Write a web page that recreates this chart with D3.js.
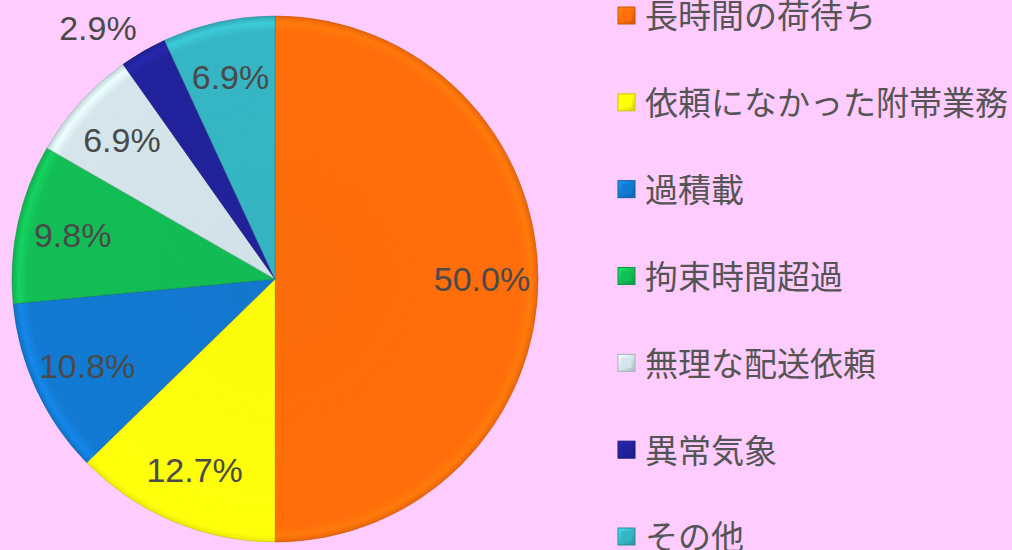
<!DOCTYPE html>
<html>
<head>
<meta charset="utf-8">
<script src="https://cdn.jsdelivr.net/npm/d3@7"></script>
<style>
  html, body { margin: 0; padding: 0; background: #FFCCFF; }
  svg { display: block; }
</style>
</head>
<body>
<script>
const categories = ["長時間の荷待ち", "依頼になかった附帯業務", "過積載", "拘束時間超過", "無理な配送依頼", "異常気象", "その他"];
const values = [50.0, 12.7, 10.8, 9.8, 6.9, 2.9, 6.9];
const colors = ["#FF6E0A", "#FFFF0A", "#127AD2", "#12BE55", "#D4E6EC", "#22229C", "#36B6C4"];

const W = 1012, H = 550;
const cx = 275, cy = 279, R = 263;

const svg = d3.select("body").append("svg").attr("width", W).attr("height", H);
svg.append("rect").attr("width", W).attr("height", H).attr("fill", "#FFCCFF");

const defs = svg.append("defs");
colors.forEach((c, i) => {
  const g = defs.append("radialGradient").attr("id", "g" + i)
    .attr("gradientUnits", "userSpaceOnUse").attr("cx", 0).attr("cy", 0).attr("r", R);
  g.append("stop").attr("offset", "0%").attr("stop-color", d3.color(c).darker(0.05));
  g.append("stop").attr("offset", "94%").attr("stop-color", c);
  g.append("stop").attr("offset", "97.5%").attr("stop-color", d3.color(c).brighter(0.3));
  g.append("stop").attr("offset", "100%").attr("stop-color", d3.color(c).darker(0.25));
  const lg = defs.append("linearGradient").attr("id", "l" + i)
    .attr("x1", 0).attr("y1", 0).attr("x2", 1).attr("y2", 1);
  lg.append("stop").attr("offset", "0%").attr("stop-color", d3.color(c).brighter(0.6));
  lg.append("stop").attr("offset", "50%").attr("stop-color", c);
  lg.append("stop").attr("offset", "100%").attr("stop-color", d3.color(c).darker(0.6));
});

const data = categories.map((c, i) => ({ cat: c, value: values[i], i }));
const pie = d3.pie().sort(null).value(d => d.value);
const arcs = pie(data);
const arc = d3.arc().innerRadius(0).outerRadius(R);
const labelR = 207, outR = R + 44;

const g = svg.append("g").attr("transform", `translate(${cx},${cy})`);
g.selectAll("path.slice").data(arcs).enter().append("path")
  .attr("class", "slice")
  .attr("d", arc)
  .attr("fill", d => `url(#g${d.data.i})`)
  .attr("stroke", d => d3.color(colors[d.data.i]).darker(0.8))
  .attr("stroke-opacity", 0.55)
  .attr("stroke-width", 1);

const total = d3.sum(values);
function labelPos(d) {
  const outside = d.data.value / total < 0.05;
  const a = (d.startAngle + d.endAngle) / 2 - (outside ? 0.09 : 0);
  const r = outside ? outR : labelR;
  return [Math.sin(a) * r, -Math.cos(a) * r];
}
g.selectAll("text.lbl").data(arcs).enter().append("text")
  .attr("class", "lbl")
  .attr("transform", d => { const p = labelPos(d); return `translate(${p[0]},${p[1]})`; })
  .attr("text-anchor", "middle")
  .attr("dy", "0.36em")
  .attr("font-family", "'Liberation Sans', Arial, sans-serif")
  .attr("font-size", 34)
  .attr("fill", "#4A4A4A")
  .text(d => d.data.value.toFixed(1) + "%");

const legendY = d3.scalePoint().domain(categories).range([15.5, 536.5]);
const lg = svg.append("g");
const items = lg.selectAll("g").data(data).enter().append("g")
  .attr("transform", d => `translate(618,${legendY(d.cat)})`);
items.append("rect")
  .attr("x", 0).attr("y", -8.5).attr("width", 17).attr("height", 17)
  .attr("fill", d => `url(#l${d.i})`)
  .attr("stroke", d => d3.color(colors[d.i]).darker(0.7))
  .attr("stroke-width", 1);
items.append("rect")
  .attr("x", 3.5).attr("y", -5).attr("width", 10).attr("height", 10)
  .attr("fill", d => colors[d.i]);
items.append("text")
  .attr("x", 27)
  .attr("dy", "0.39em")
  .attr("font-family", "'Noto Sans CJK JP', sans-serif")
  .attr("font-size", 33)
  .attr("fill", "#555555")
  .text(d => d.cat);
</script>
</body>
</html>
